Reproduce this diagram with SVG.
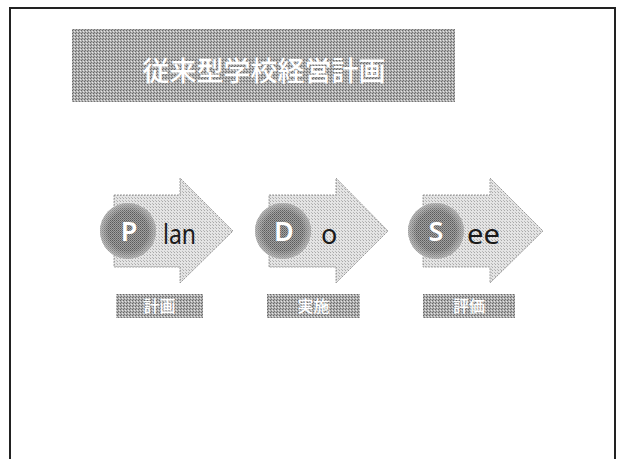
<svg xmlns="http://www.w3.org/2000/svg" width="619" height="459" viewBox="0 0 619 459">
<defs>
<pattern id="dither" width="3" height="3" patternUnits="userSpaceOnUse">
<rect width="3" height="3" fill="#b0b0b0"/>
<rect x="0" y="0" width="1" height="1" fill="#666"/>
<rect x="2" y="1" width="1" height="1" fill="#e6e6e6"/>
<rect x="1" y="2" width="1" height="1" fill="#747474"/>
</pattern>
<pattern id="lightdither" width="3" height="3" patternUnits="userSpaceOnUse">
<rect width="3" height="3" fill="#e4e4e4"/>
<rect x="0" y="0" width="1" height="1" fill="#a8a8a8"/>
<rect x="2" y="2" width="1" height="1" fill="#b8b8b8"/>
</pattern>
<pattern id="darkdither" width="2" height="2" patternUnits="userSpaceOnUse">
<rect width="2" height="2" fill="#a0a0a0"/>
<rect x="0" y="0" width="1" height="1" fill="#5a5a5a"/>
<rect x="1" y="1" width="1" height="1" fill="#727272"/>
</pattern>
<radialGradient id="fade" cx="0.5" cy="0.5" r="0.5">
<stop offset="0.7" stop-color="#d8d8d8" stop-opacity="0"/>
<stop offset="1" stop-color="#d8d8d8" stop-opacity="0.55"/>
</radialGradient>
</defs>
<style>
.frame{fill:none;stroke:#222;stroke-width:2}
.title{fill:url(#dither)}
.ttl{font-family:"Noto Sans CJK JP",sans-serif;font-size:27px;font-weight:500;fill:#fff;text-anchor:middle}
.arrow{fill:url(#lightdither);stroke:#888;stroke-width:0.8;stroke-dasharray:2 1}
.circ{fill:url(#darkdither)}
.cap{font-family:"Noto Sans","DejaVu Sans",sans-serif;font-size:27px;font-weight:600;fill:#fff;text-anchor:middle}
.rest{font-family:"Noto Sans","DejaVu Sans",sans-serif;font-size:27px;fill:#1a1a1a}
.btn{fill:url(#dither)}
.btxt{font-family:"Noto Sans CJK JP",sans-serif;font-size:16px;font-weight:500;fill:#fff;text-anchor:middle}
</style>
<rect width="619" height="459" fill="#fff"/>
<path class="frame" d="M10,460 V8 H615 V460"/>
<g id="title">
<rect class="title" x="72" y="29" width="383" height="73"/>
<text class="ttl" x="264" y="81">従来型学校経営計画</text>
</g>
<g id="connectors"/>
<g id="plan">
<path class="arrow" d="M114,195 H180 V178 L233,231 L180,283 V267 H114 Z"/>
<circle class="circ" cx="128" cy="231" r="28"/>
<circle cx="128" cy="231" r="28" fill="url(#fade)"/>
<text class="cap" x="129" y="241">P</text>
<text class="rest" x="163" y="244" textLength="33" lengthAdjust="spacingAndGlyphs">lan</text>
</g>
<g id="do">
<path class="arrow" d="M269,195 H336 V178 L388,231 L336,283 V267 H269 Z"/>
<circle class="circ" cx="283" cy="231" r="28"/>
<circle cx="283" cy="231" r="28" fill="url(#fade)"/>
<text class="cap" x="284" y="241">D</text>
<text class="rest" x="321" y="244">o</text>
</g>
<g id="see">
<path class="arrow" d="M423,195 H490 V178 L543,231 L490,283 V267 H423 Z"/>
<circle class="circ" cx="436" cy="231" r="28"/>
<circle cx="436" cy="231" r="28" fill="url(#fade)"/>
<text class="cap" x="436" y="241">S</text>
<text class="rest" x="467" y="244" textLength="33" lengthAdjust="spacingAndGlyphs">ee</text>
</g>
<g id="btn-keikaku">
<rect class="btn" x="116" y="294" width="87" height="24"/>
<text class="btxt" x="159.5" y="312">計画</text>
</g>
<g id="btn-jisshi">
<rect class="btn" x="267" y="294" width="93" height="24"/>
<text class="btxt" x="313.5" y="312">実施</text>
</g>
<g id="btn-hyoka">
<rect class="btn" x="423" y="294" width="92" height="24"/>
<text class="btxt" x="469" y="312">評価</text>
</g>
</svg>
